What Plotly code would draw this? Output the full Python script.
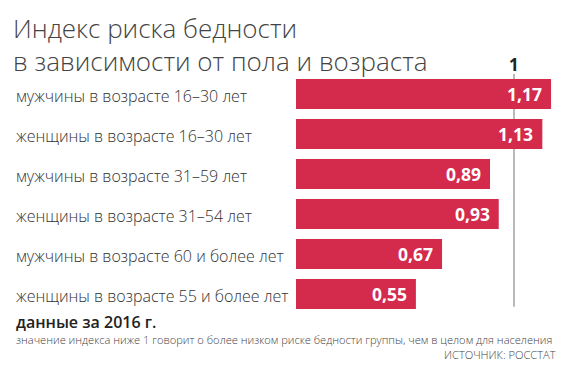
import plotly.graph_objects as go

categories = [
    "мужчины в возрасте 16–30 лет",
    "женщины в возрасте 16–30 лет",
    "мужчины в возрасте 31–59 лет",
    "женщины в возрасте 31–54 лет",
    "мужчины в возрасте 60 и более лет",
    "женщины в возрасте 55 и более лет",
]
values = [1.17, 1.13, 0.89, 0.93, 0.67, 0.55]
reference_value = 1

title_lines = ["Индекс риска бедности", "в зависимости от пола и возраста"]
subtitle = "данные за 2016 г."
note = "значение индекса ниже 1 говорит о более низком риске бедности группы, чем в целом для населения"
source = "ИСТОЧНИК: РОССТАТ"

W, H = 570, 375
ml, mr, mt, mb = 296, 10, 74, 61
pw = W - ml - mr
px_per_unit = 218.0
xmax = pw / px_per_unit

bar_color = "#d42a4c"
label_font = "Open Sans"

fig = go.Figure()
fig.add_trace(go.Bar(
    x=values, y=categories, orientation="h",
    marker=dict(color=bar_color, line=dict(width=0)),
    width=0.75, hoverinfo="skip",
))

# reference line at 1 (behind the bars)
fig.add_shape(type="line", xref="x", yref="paper", layer="below",
              x0=reference_value, x1=reference_value, y0=0.03, y1=1.0,
              line=dict(color="#8a8a8a", width=1.2))

def px_x(p):
    return (p - ml) / pw

def px_y(p):
    return (H - mb - p) / (H - mt - mb)

ann = []
ann.append(dict(x=reference_value, y=1.0, xref="x", yref="paper", text="<b>1</b>",
                showarrow=False, yanchor="bottom", yshift=-4,
                font=dict(family=label_font, size=17, color="#222")))
for c, v in zip(categories, values):
    ann.append(dict(x=v, y=c, xref="x", yref="y", text="<b>" + f"{v:.2f}".replace(".", ",") + "</b>",
                    showarrow=False, xanchor="right", xshift=-7,
                    font=dict(family=label_font, size=17.5, color="white")))
    ann.append(dict(x=px_x(14), y=c, xref="paper", yref="y", text=c,
                    showarrow=False, xanchor="left", yshift=-2,
                    font=dict(family=label_font, size=16, color="#333", weight=300)))

ann.append(dict(x=px_x(11), y=px_y(28), xref="paper", yref="paper",
                text=title_lines[0], showarrow=False, xanchor="left", yanchor="middle",
                font=dict(family=label_font, size=26, color="#444", weight=300)))
ann.append(dict(x=px_x(11), y=px_y(61), xref="paper", yref="paper",
                text=title_lines[1], showarrow=False, xanchor="left", yanchor="middle",
                font=dict(family=label_font, size=26, color="#444", weight=300)))
ann.append(dict(x=px_x(14), y=px_y(322), xref="paper", yref="paper",
                text=subtitle, showarrow=False, xanchor="left", yanchor="middle",
                font=dict(family=label_font, size=16, color="#222", weight=600)))
ann.append(dict(x=px_x(14), y=px_y(339), xref="paper", yref="paper",
                text=note, showarrow=False, xanchor="left", yanchor="middle",
                font=dict(family=label_font, size=11.1, color="#444", weight=300)))
ann.append(dict(x=px_x(558), y=px_y(354), xref="paper", yref="paper",
                text=source, showarrow=False, xanchor="right", yanchor="middle",
                font=dict(family=label_font, size=11.1, color="#444", weight=300)))

fig.update_layout(
    width=W, height=H,
    margin=dict(l=ml, r=mr, t=mt, b=mb),
    paper_bgcolor="white", plot_bgcolor="white",
    showlegend=False,
    xaxis=dict(range=[0, xmax], visible=False, fixedrange=True),
    yaxis=dict(autorange="reversed", visible=False, fixedrange=True),
    annotations=ann,
)

fig.write_html("out.html", config={"displayModeBar": False},
               post_script="document.body.style.margin='0';document.body.style.padding='0';")
